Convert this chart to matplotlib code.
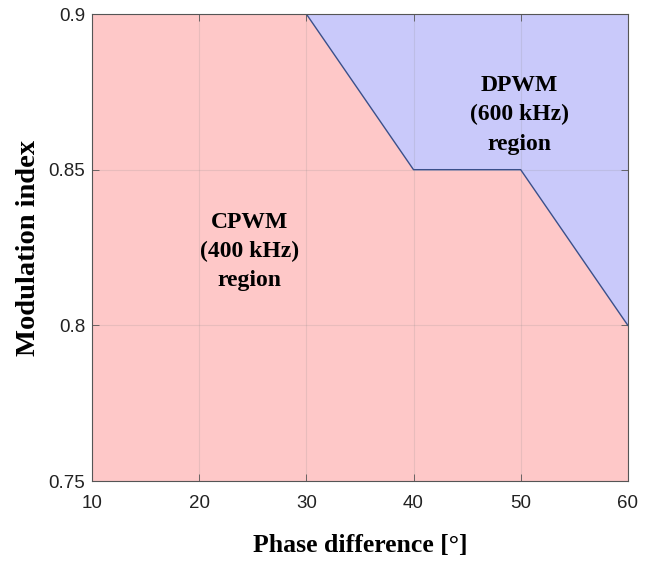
import matplotlib
matplotlib.use("Agg")
import matplotlib.pyplot as plt

# boundary between CPWM and DPWM operating regions
phase_deg = [10, 30, 40, 50, 60]
mod_boundary = [0.9, 0.9, 0.85, 0.85, 0.8]

x_ticks = [10, 20, 30, 40, 50, 60]
y_ticks = [0.75, 0.8, 0.85, 0.9]
y_ticklabels = ["0.75", "0.8", "0.85", "0.9"]

RED = "#fec8c8"
BLUE = "#c9c9fa"
EDGE = "#3a4f8a"
SERIF = ["Liberation Serif", "DejaVu Serif"]

fig = plt.figure(figsize=(6.54, 5.61), dpi=100)
ax = fig.add_axes([0.1407, 0.1426, 0.8193, 0.8324])

ax.fill_between(phase_deg, 0.75, mod_boundary, color=RED, lw=0, zorder=1)
ax.fill_between(phase_deg, mod_boundary, 0.9, color=BLUE, lw=0, zorder=1)
ax.plot(phase_deg, mod_boundary, color=EDGE, lw=1.0, zorder=3)

ax.set_xlim(10, 60)
ax.set_ylim(0.75, 0.9)
ax.set_xticks(x_ticks)
ax.set_yticks(y_ticks)
ax.set_yticklabels(y_ticklabels)
ax.tick_params(direction="in", length=5, width=0.6, color="#555555",
               labelsize=13.5, labelcolor="#222222", top=True, right=True)
ax.tick_params(axis="x", pad=10)
ax.tick_params(axis="y", pad=5)
for lbl in ax.get_xticklabels() + ax.get_yticklabels():
    lbl.set_family(["Liberation Sans", "DejaVu Sans"])
ax.grid(True, color="#888888", alpha=0.18, lw=0.8, zorder=2)
ax.set_axisbelow(False)
for sp in ax.spines.values():
    sp.set_color("#555555")
    sp.set_linewidth(0.8)
    sp.set_zorder(4)

ax.set_xlabel("Phase difference [°]", family=SERIF, fontweight="bold",
              fontsize=18.5, labelpad=16)
ax.set_ylabel("Modulation index", family=SERIF, fontweight="bold",
              fontsize=20.5, labelpad=5.5)

ax.text(24.7, 0.8236, "CPWM\n(400 kHz)\nregion", family=SERIF,
        fontweight="bold", fontsize=17, ha="center", va="center",
        multialignment="center", linespacing=1.5, zorder=5)
ax.text(49.9, 0.8676, "DPWM\n(600 kHz)\nregion", family=SERIF,
        fontweight="bold", fontsize=17, ha="center", va="center",
        multialignment="center", linespacing=1.5, zorder=5)

fig.savefig("out.png", dpi=100, facecolor="white")
